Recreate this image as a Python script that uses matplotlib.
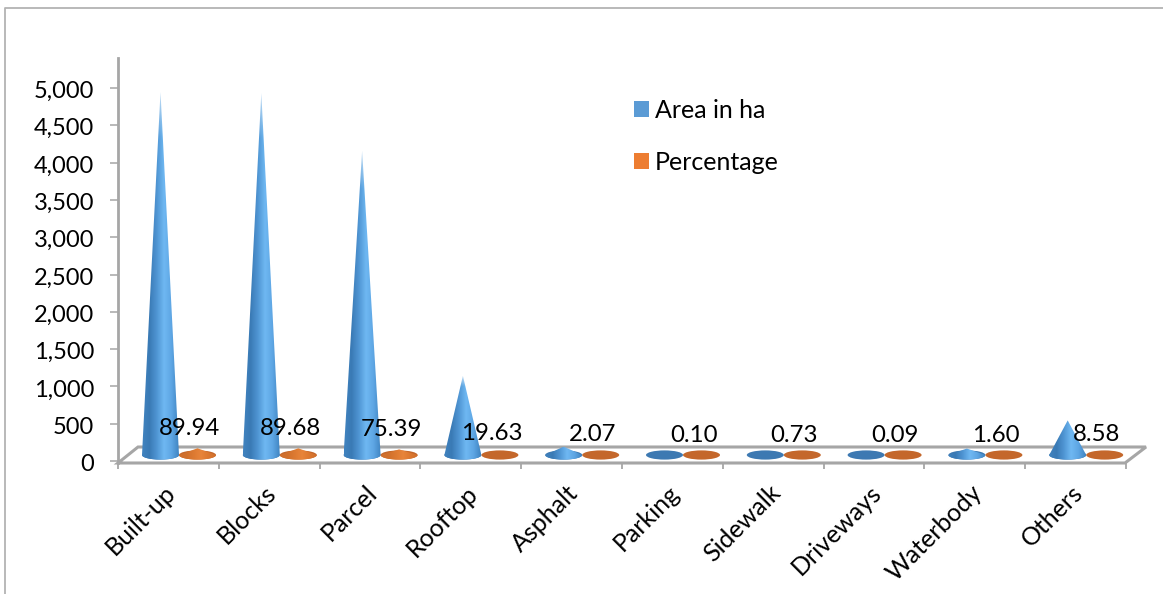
import matplotlib as mpl
import matplotlib.pyplot as plt
import numpy as np
from matplotlib.colors import to_rgb
from matplotlib.lines import Line2D
from matplotlib.patches import Ellipse, Patch, Polygon
from matplotlib.transforms import ScaledTranslation

categories = ["Built-up", "Blocks", "Parcel", "Rooftop", "Asphalt", "Parking",
              "Sidewalk", "Driveways", "Waterbody", "Others"]
area_ha = [4866, 4852, 4079, 1062, 112, 5.4, 39.5, 4.9, 86.6, 464]
percentage = [89.94, 89.68, 75.39, 19.63, 2.07, 0.10, 0.73, 0.09, 1.60, 8.58]
percent_labels = ["89.94", "89.68", "75.39", "19.63", "2.07", "0.10", "0.73", "0.09", "1.60", "8.58"]
yticks = list(range(0, 5001, 500))

W, H = 1163, 594
GREY = "#a6a6a6"
plt.rcParams["font.family"] = ["Lato", "DejaVu Sans"]
plt.rcParams["font.size"] = 17

fig = plt.figure(figsize=(W / 100, H / 100), dpi=100)
ax = fig.add_axes([118 / W, (H - 463) / H, (1146 - 118) / W, (463 - 58) / H])

per_px_y = 5000 / 373
per_px_x = 1 / 100.8
ax.set_xlim(-42.5 * per_px_x, 985.5 * per_px_x)
ax.set_ylim(-2 * per_px_y, 403 * per_px_y)

base_y = 6 * per_px_y
half_w = 18.5 * per_px_x
half_h = 4.6 * per_px_y
orange_dx = 37 * per_px_x
front_right = 964.5 * per_px_x
left_edge = -42.5 * per_px_x
depth_y = 14 * per_px_y


def shaded(colors, fade_to_tip, nx=80, ny=120):
    # horizontal shine across the cone, fading lighter towards the tip
    stops = np.linspace(0, 1, len(colors))
    xs = np.linspace(0, 1, nx)
    rgb = np.array([np.interp(xs, stops, [to_rgb(c)[i] for c in colors]) for i in range(3)]).T
    img = np.repeat(rgb[None, :, :], ny, axis=0)
    if fade_to_tip:
        fade = np.clip(1 - np.linspace(0, 1, ny) / 0.12, 0, 1)[:, None, None] * 0.6
        img = img * (1 - fade) + fade
    return img


def cone(x, value, colors, flat_color, z):
    ax.add_patch(Ellipse((x, base_y), 2 * half_w, 2 * half_h, fc=flat_color, ec="none", zorder=z))
    # a tip that stays inside the base ellipse is not visible, only the ellipse is
    if value <= half_h:
        return
    t = np.linspace(np.pi, 2 * np.pi, 40)
    bx = x + half_w * np.cos(t)
    by = base_y + half_h * np.sin(t)
    top = base_y + value
    outline = Polygon(np.vstack([np.c_[bx, by], [x, top]]), closed=True, fc="none", ec="none",
                      transform=ax.transData)
    ax.add_patch(outline)
    im = ax.imshow(shaded(colors, value > 1000), extent=(x - half_w, x + half_w, base_y - half_h, top),
                   aspect="auto", zorder=z + 0.1, interpolation="bilinear")
    im.set_clip_path(outline)


# floor of the 3d plot
floor = Polygon([(left_edge, -2 * per_px_y), (front_right, -2 * per_px_y),
                 (front_right + 21 * per_px_x, depth_y), (left_edge + 20 * per_px_x, depth_y)],
                closed=True, fc="white", ec=GREY, lw=2.2, zorder=1, clip_on=False)
ax.add_patch(floor)

blue = ["#4183bf", "#3a7ab5", "#4f95d3", "#6fb8f2", "#5ea6e4", "#4185c2"]
orange = ["#d2702c", "#d0702c", "#dd7a32", "#e8843a", "#dc7830", "#d0702c"]
for i in range(len(categories)):
    cone(i, area_ha[i], blue, "#3d79b2", 2 + i)
    cone(i + orange_dx, percentage[i], orange, "#c4672b", 2.5 + i)
    ax.annotate(percent_labels[i], (i + orange_dx - 8 * per_px_x, base_y + percentage[i]),
                xytext=(0, 14.3), textcoords="offset points", ha="center", va="center",
                color="black", zorder=20, fontsize=17.3)

ax.set_xlim(-42.5 * per_px_x, 985.5 * per_px_x)
ax.set_ylim(-2 * per_px_y, 403 * per_px_y)

ax.set_yticks(yticks)
ax.set_yticklabels([f"{v:,}" for v in yticks])
ax.tick_params(axis="y", length=6, width=1.1, color=GREY, pad=11, labelcolor="black")
nudge = ScaledTranslation(0, -1.5 / 100, fig.dpi_scale_trans)
for label in ax.get_yticklabels():
    label.set_transform(label.get_transform() + nudge)

centers = np.arange(len(categories)) + 3 * per_px_x
ax.set_xticks(centers)
ax.set_xticklabels(categories, rotation=45, ha="right", rotation_mode="anchor", fontsize=18)
ax.tick_params(axis="x", which="major", length=0, pad=13)
ax.set_xticks(np.arange(len(categories) + 1) + left_edge, minor=True)
ax.tick_params(axis="x", which="minor", length=4, width=1.3, color=GREY)

for side in ["top", "right"]:
    ax.spines[side].set_visible(False)
ax.spines["bottom"].set_visible(False)
ax.spines["left"].set_color(GREY)
ax.spines["left"].set_linewidth(2)

handles = [Patch(fc="#5b9bd5", label="Area in ha"), Patch(fc="#ed7d31", label="Percentage")]
ax.legend(handles=handles, frameon=False, loc="upper left", bbox_to_anchor=(516 / 1028, 1 - 41 / 405),
          fontsize=18, handlelength=0.6, handleheight=0.6, handletextpad=0.23, labelspacing=1.14,
          borderpad=0, borderaxespad=0)

# chart area border, only the top and left edges are in frame
fig.add_artist(Line2D([5 / W, 5 / W, 1], [0, 1 - 7.5 / H, 1 - 7.5 / H], color="#b3b3b3", lw=1.3))

fig.savefig("out.png", dpi=100)
